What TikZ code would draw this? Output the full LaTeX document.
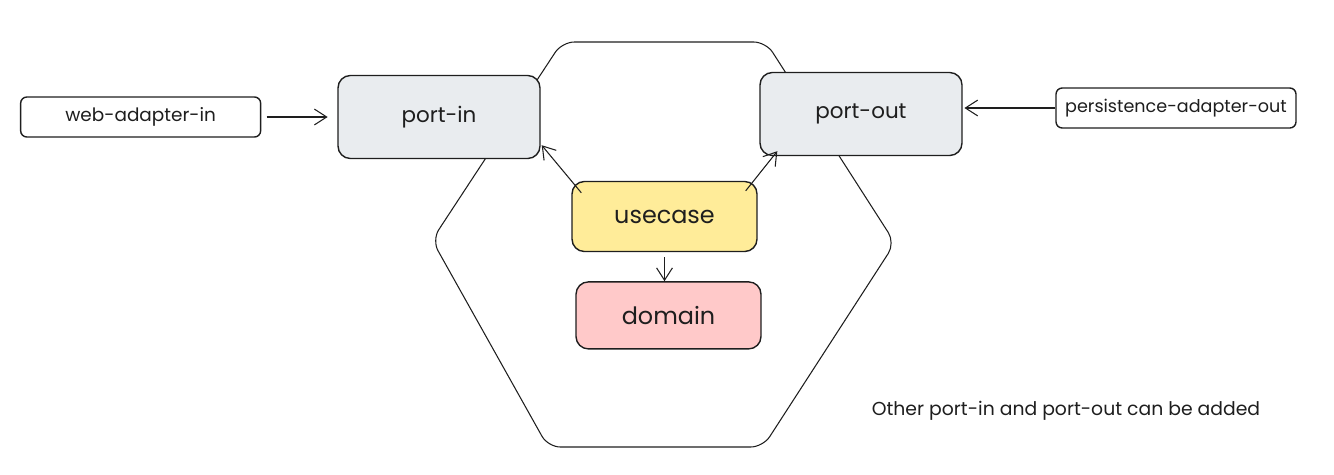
\documentclass[tikz,border=0pt]{standalone}
\usepackage{fontspec}
\setmainfont{Poppins}
\usetikzlibrary{arrows.meta,positioning}
\definecolor{portgray}{HTML}{E9ECEF}
\definecolor{caseyellow}{HTML}{FFEC99}
\definecolor{domainred}{HTML}{FFC9C9}
\definecolor{ink}{HTML}{1E1E1E}

\begin{document}
\begin{tikzpicture}[x=0.02cm,y=-0.02cm,
    box/.style={rectangle,draw=ink,line width=0.8pt,rounded corners=7pt,
      inner sep=2pt},
    port/.style={box,fill=portgray,minimum width=4.04cm,minimum height=1.66cm,
      font=\fontsize{12.2}{14}\selectfont},
    adapter/.style={box,fill=white,rounded corners=3.5pt,minimum width=4.8cm,
      minimum height=0.8cm,font=\fontsize{10.5}{12}\selectfont},
    core/.style={box,minimum width=3.7cm,minimum height=1.4cm,
      font=\fontsize{13.6}{16}\selectfont},
    hexa/.style={draw=ink,line width=0.6pt,rounded corners=7pt},
    to/.style={->,>={Straight Barb[length=7pt,width=9pt]},draw=ink,line width=0.6pt},
    every node/.style={align=center,text=ink}]

  \useasboundingbox (0,0) rectangle (1334,474);
  \draw[hexa] (562,42) -- (766,42) -- (895,243) -- (763,447) -- (548,447)
    -- (432,240) -- cycle;

  \newcommand{\gap}{0.58cm}
  \node[port] (portin) at (439,117) {port-in};
  \node[port] (portout) at (861,114) {port-out};
  \node[adapter,left=1.52cm of portin] (web) {web-adapter-in};
  \node[adapter,font=\fontsize{10}{12}\selectfont] (persist) at (1176,108)
    {persistence-adapter-out};
  \node[core,fill=caseyellow] (usecase) at (664.5,216.5) {usecase};
  \node[core,fill=domainred,below=\gap of usecase,xshift=0.08cm,
    minimum height=1.34cm] (domain) {domain};
  \node[font=\fontsize{10.7}{13}\selectfont] (note) at (1066,411)
    {Other port-in and port-out can be added};

  \path (web.east) edge[to,shorten <=3pt,shorten >=5.5pt] (portin.west);
  \path (persist.west) edge[to,shorten >=1pt] (persist.west -| portout.east);
  \path ([shift={(10,12)}]usecase.north west) edge[to] ([shift={(1,-14)}]portin.south east);
  \path ([shift={(-12,10)}]usecase.north east) edge[to] ([shift={(18,-5)}]portout.south west);
  \path ([yshift=-3pt]usecase.south) edge[to] (usecase.south |- domain.north);

\end{tikzpicture}
\end{document}
